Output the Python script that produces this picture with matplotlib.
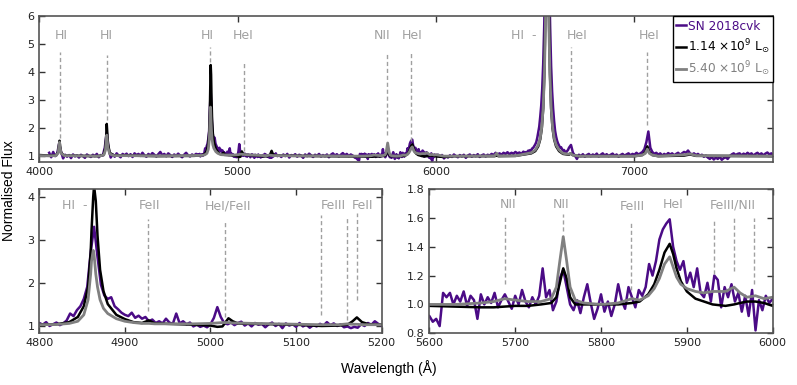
import numpy as np
import matplotlib.pyplot as plt

plt.rcParams['font.family'] = 'DejaVu Sans'
plt.rcParams['mathtext.fontset'] = 'dejavusans'

seg1_flux = [1.12, 0.96, 1.15, 1.0, 1.08, 1.45, 1.15, 0.92, 1.05, 0.98,
             1.04, 0.93, 1.06, 0.99, 1.03, 0.95, 1.05, 1.0, 0.94, 1.06,
             1.01, 0.97, 1.05, 1.0, 1.08, 0.96, 1.04, 1.02, 1.3, 1.85,
             1.25, 0.95, 1.06, 0.98, 1.1, 1.02, 0.96, 1.08, 1.03, 1.09,
             1.0, 1.07, 0.97, 1.1, 1.04, 1.08, 1.01, 1.12, 1.03, 0.98,
             1.08, 1.02, 1.11, 1.05, 0.99, 1.07, 1.15, 1.03, 1.08, 1.0,
             1.1, 1.04, 0.97, 1.06, 1.01, 1.09, 1.02, 0.96, 1.05, 1.12,
             1.03, 0.99, 1.06, 1.02, 1.08]
hb_flux = [1.06, 1.02, 1.08, 0.99, 1.03, 1.07, 1.01, 1.05, 1.12, 1.28,
           1.22, 1.36, 1.45, 1.62, 1.9, 2.7, 3.3, 2.6, 1.95, 1.7,
           1.62, 1.66, 1.45, 1.38, 1.3, 1.25, 1.22, 1.3, 1.18, 1.23,
           1.16, 1.2, 1.1, 1.14, 1.06, 1.1, 1.05, 1.16, 1.07, 1.04,
           1.28, 1.05, 1.1, 1.03, 1.07, 0.98, 1.02, 0.97, 1.0, 0.96,
           1.03, 1.18, 1.43, 1.2, 1.06, 1.03, 1.07, 1.01, 1.06, 1.09,
           1.0, 1.05, 0.98, 1.06, 1.02, 1.04, 0.96, 1.03, 1.07, 0.99,
           1.04, 0.94, 1.05, 1.0, 1.03, 0.97, 1.06, 0.98, 1.02, 0.95,
           1.01, 0.98, 1.04, 1.0, 1.08, 1.01, 1.05, 0.99, 1.03, 0.96,
           0.98, 0.94, 0.97, 0.95, 1.03, 0.99, 1.06, 1.02, 1.1, 1.04,
           1.0]
seg2_flux = [1.03, 0.97, 1.06, 1.0, 1.08, 0.95, 1.04, 1.01, 1.07, 0.98,
             1.05, 1.02, 0.94, 1.06, 1.0, 1.09, 1.03, 0.97, 1.05, 1.01,
             1.08, 0.99, 1.04, 1.0, 1.06, 0.96, 1.05, 1.1, 1.02, 1.07,
             0.99, 1.05, 1.11, 1.03, 1.08, 1.0, 1.06, 1.02, 0.95]
hei_flux = [0.92, 0.88, 0.9, 0.85, 1.08, 1.05, 1.08, 1.0, 1.06, 1.02,
            1.09, 0.99, 1.06, 1.03, 0.9, 1.07, 1.0, 1.05, 1.01, 1.08,
            0.98, 1.03, 1.07, 1.02, 0.97, 1.06, 1.0, 1.1, 1.02, 0.98,
            1.05, 1.0, 1.06, 1.25, 1.05, 1.1, 0.96, 1.02, 1.18, 1.24,
            1.12, 1.0, 0.96, 1.03, 0.94, 1.05, 1.14, 1.01, 0.9, 0.97,
            1.07, 0.95, 1.02, 0.92, 1.0, 1.14, 1.03, 0.97, 1.12, 1.05,
            0.98, 1.1, 1.06, 1.12, 1.28, 1.2, 1.3, 1.45, 1.52, 1.56,
            1.59, 1.4, 1.3, 1.24, 1.3, 1.15, 1.22, 1.12, 1.25, 1.08,
            1.05, 1.15, 1.02, 1.2, 1.17, 0.98, 1.12, 1.05, 1.14, 1.02,
            1.08, 0.95, 1.06, 0.92, 1.1, 0.82, 1.03, 0.96, 1.06, 1.01,
            1.04]
seg3_flux = [1.05, 0.98, 1.04, 0.92, 1.0, 0.95, 1.03, 0.97, 1.06, 1.0,
             0.96, 1.04, 0.99, 1.05, 0.94, 1.02, 1.06, 0.98, 1.04, 1.0,
             1.07, 0.97, 1.03, 1.06, 0.99, 1.05, 1.02, 1.08, 1.04, 1.12,
             1.06, 1.1, 1.05, 1.12, 1.08, 1.14, 1.07, 1.12, 1.09, 1.15,
             1.1, 1.13, 1.08, 1.16, 1.12]
ha_flux = [1.15, 1.12, 1.2, 1.15, 1.22, 1.2, 1.28, 1.3, 1.36, 1.42,
           1.5, 1.65, 1.85, 2.05, 2.4, 2.8, 3.4, 4.3, 5.6, 7.5,
           9.5, 10.5, 9.5, 7.5, 5.6, 4.2, 3.3, 2.7, 2.25, 1.9,
           1.7, 1.55, 1.45, 1.38, 1.3, 1.32, 1.25, 1.2, 1.22, 1.15,
           1.13, 1.18, 1.22, 1.3]
seg4_flux = [1.4, 1.12, 1.02, 0.9, 1.05, 1.0, 1.07, 0.98, 1.04, 1.08,
             1.0, 1.06, 1.02, 1.09, 0.99, 1.05, 1.1, 1.02, 1.07, 1.0,
             1.05, 1.09, 1.01, 1.06, 0.98, 1.04, 1.08, 1.02, 1.06, 1.1,
             1.03, 1.08, 1.05, 1.12, 1.06, 1.1, 1.15, 1.25, 1.5, 1.88,
             1.3, 1.15, 1.08, 1.12, 1.05, 1.1, 1.02, 1.08, 1.04, 1.11,
             1.06, 1.1, 1.03, 1.08, 1.12, 1.05, 1.1, 1.15, 1.12, 1.2,
             1.1, 1.06, 1.1, 1.04, 1.08, 1.02, 1.05, 0.98, 1.02, 0.95,
             0.9, 0.97, 0.88, 0.95, 0.9, 0.98, 0.87, 0.93, 0.96, 0.9,
             1.0, 1.06, 1.1, 1.04, 1.08, 1.1, 1.03, 1.09, 1.05, 1.12,
             1.06, 1.1, 1.02, 1.08, 1.12, 1.05, 1.1, 1.03, 1.09, 1.13,
             1.06, 1.1, 1.04]

obs_wave = np.concatenate([
    4050 + 10 * np.arange(len(seg1_flux)),
    4800 + 4 * np.arange(len(hb_flux)),
    5210 + 10 * np.arange(len(seg2_flux)),
    5600 + 4 * np.arange(len(hei_flux)),
    6010 + 10 * np.arange(len(seg3_flux)),
    6455 + 5 * np.arange(len(ha_flux)),
    6680 + 10 * np.arange(len(seg4_flux)),
])
obs_flux = np.concatenate([seg1_flux, hb_flux, seg2_flux, hei_flux,
                           seg3_flux, ha_flux, seg4_flux])

# --- model spectra ---
model_wave = [4000, 4050, 4085, 4095, 4100, 4102, 4105, 4110, 4125, 4300,
              4325, 4333, 4338, 4340, 4342, 4346, 4355, 4375, 4600, 4780,
              4800, 4820, 4835, 4845, 4852, 4857, 4860, 4861, 4863, 4864,
              4866, 4868, 4871, 4875, 4880, 4890, 4900, 4910, 4920, 4928,
              4935, 4950, 4980, 5000, 5008, 5014, 5021, 5026, 5032, 5050,
              5100, 5130, 5150, 5160, 5166, 5171, 5177, 5185, 5200, 5300,
              5450, 5550, 5600, 5630, 5660, 5675, 5688, 5700, 5715, 5730,
              5742, 5748, 5752, 5756, 5760, 5764, 5770, 5780, 5800, 5820,
              5836, 5845, 5855, 5862, 5868, 5874, 5880, 5884, 5888, 5893,
              5900, 5910, 5920, 5930, 5945, 5955, 5962, 5970, 5980, 5990,
              6000, 6040, 6100, 6295, 6305, 6315, 6400, 6480, 6500, 6515,
              6525, 6533, 6540, 6546, 6551, 6556, 6560, 6564, 6569, 6574,
              6580, 6587, 6595, 6605, 6620, 6640, 6670, 6678, 6688, 6720,
              7000, 7040, 7055, 7065, 7075, 7090, 7120, 7250, 7280, 7310,
              7700]
model_low = [1.04, 1.02, 1.03, 1.15, 1.45, 1.55, 1.35, 1.12, 1.02, 1.0,
             1.05, 1.3, 1.8, 2.15, 1.9, 1.45, 1.12, 1.03, 1.0, 1.01,
             1.02, 1.03, 1.08, 1.2, 1.45, 1.9, 2.7, 3.2, 4.0, 4.25,
             3.9, 3.1, 2.3, 1.8, 1.5, 1.25, 1.15, 1.08, 1.06, 1.12,
             1.05, 1.04, 1.02, 1.0, 0.97, 0.98, 1.17, 1.1, 1.05, 1.04,
             1.02, 0.99, 1.0, 1.02, 1.1, 1.19, 1.08, 1.03, 1.02, 1.01,
             1.0, 0.99, 0.99, 0.985, 0.98, 0.98, 0.985, 0.99, 0.99, 1.0,
             1.01, 1.05, 1.15, 1.25, 1.18, 1.05, 1.0, 1.0, 1.0, 1.0,
             1.01, 1.02, 1.07, 1.14, 1.24, 1.36, 1.42, 1.35, 1.25, 1.16,
             1.09, 1.04, 1.02, 1.0, 0.99, 1.0, 1.01, 1.02, 1.02, 1.01,
             0.99, 0.97, 1.0, 1.0, 1.02, 1.0, 1.01, 1.1, 1.18, 1.35,
             1.6, 2.0, 2.7, 4.0, 6.0, 10.0, 12.0, 10.0, 6.0, 4.0,
             2.7, 2.0, 1.6, 1.35, 1.18, 1.08, 1.05, 1.1, 1.04, 1.0,
             1.0, 1.04, 1.15, 1.35, 1.15, 1.04, 1.0, 1.02, 1.06, 1.01,
             1.0]
model_high = [1.02, 1.01, 1.02, 1.12, 1.4, 1.5, 1.3, 1.1, 1.02, 1.0,
              1.04, 1.2, 1.55, 1.75, 1.6, 1.3, 1.08, 1.02, 1.01, 1.02,
              1.02, 1.025, 1.05, 1.1, 1.25, 1.6, 2.2, 2.5, 2.75, 2.65,
              2.2, 1.9, 1.6, 1.4, 1.28, 1.16, 1.1, 1.07, 1.05, 1.05,
              1.04, 1.04, 1.04, 1.05, 1.06, 1.07, 1.07, 1.06, 1.06, 1.05,
              1.03, 1.02, 1.02, 1.04, 1.03, 1.03, 1.02, 1.02, 1.02, 1.01,
              1.01, 1.0, 1.0, 1.0, 1.01, 1.02, 1.04, 1.03, 1.02, 1.02,
              1.04, 1.12, 1.3, 1.47, 1.3, 1.12, 1.03, 1.01, 1.0, 1.01,
              1.04, 1.03, 1.06, 1.11, 1.18, 1.28, 1.33, 1.26, 1.19, 1.14,
              1.11, 1.09, 1.08, 1.09, 1.09, 1.12, 1.08, 1.05, 1.06, 1.04,
              1.05, 1.0, 1.0, 1.01, 1.1, 1.01, 1.01, 1.12, 1.22, 1.4,
              1.65, 2.05, 2.75, 3.9, 5.6, 8.8, 10.0, 8.8, 5.6, 3.9,
              2.75, 2.05, 1.65, 1.4, 1.22, 1.1, 1.07, 1.1, 1.04, 1.0,
              1.0, 1.04, 1.1, 1.25, 1.1, 1.04, 1.0, 1.05, 1.08, 1.02,
              1.0]

# --- line identifications: (wavelength, dash bottom, dash top) and labels ---
top_marks = [(4102, 1.65, 4.72), (4340, 2.3, 4.6), (4861, 4.35, 4.9),
             (5030, 1.2, 4.37), (5755, 1.75, 4.72), (5876, 1.55, 4.72),
             (6678, 1.65, 4.9), (7065, 2.1, 4.72)]
top_labels = [('HI', 4112, 'center'), ('HI', 4338, 'center'),
              ('HI', 4848, 'center'), ('HeI', 5029, 'center'),
              ('NII', 5726, 'center'), ('HeI', 5880, 'center'),
              ('HI  -', 6505, 'right'), ('HeI', 6709, 'center'),
              ('HeI', 7076, 'center')]
left_marks = [(4927, 1.33, 3.48), (5017, 1.21, 3.42), (5129, 1.25, 3.58),
              (5160, 1.13, 3.54), (5171, 1.6, 3.62)]
left_labels = [('HI  -', 4856, 'right'), ('FeII', 4929, 'center'),
               ('HeI/FeII', 5021, 'center'), ('FeIII', 5143, 'center'),
               ('FeII', 5178, 'center')]
right_marks = [(5688, 1.14, 1.61), (5756, 1.51, 1.63), (5835, 1.1, 1.57),
               (5932, 1.21, 1.59), (5955, 1.23, 1.6), (5978, 1.14, 1.6)]
right_labels = [('NII', 5692, 1.69), ('NII', 5753, 1.69),
                ('FeIII', 5836, 1.68), ('HeI', 5884, 1.69),
                ('FeIII/NII', 5953, 1.69)]

purple = '#4b0b86'
grey = '#808080'
label_grey = '#a0a0a0'

fig = plt.figure(figsize=(7.97, 3.85), dpi=100)
ax_top = fig.add_axes([0.0493, 0.5784, 0.9210, 0.3800])
ax_l = fig.add_axes([0.0493, 0.1343, 0.4296, 0.3748])
ax_r = fig.add_axes([0.5387, 0.1343, 0.4308, 0.3748])

for ax in (ax_top, ax_l, ax_r):
    ax.plot(obs_wave, obs_flux, color=purple, lw=1.8, label='SN 2018cvk')
    ax.plot(model_wave, model_low, color='k', lw=1.8,
            label=r'1.14 $\times$10$^9$ L$_{\odot}$')
    ax.plot(model_wave, model_high, color=grey, lw=2.0,
            label=r'5.40 $\times$10$^9$ L$_{\odot}$')
    ax.tick_params(direction='in', top=True, right=True, labelsize=8,
                   length=4, width=1, color='#333333', labelcolor='#222222')
    for sp in ax.spines.values():
        sp.set_color('#555555')
        sp.set_linewidth(1.2)

ax_top.set_xlim(4000, 7700)
ax_top.set_ylim(0.78, 6)
ax_top.set_xticks([4000, 5000, 6000, 7000])
ax_top.set_yticks([1, 2, 3, 4, 5, 6])

ax_l.set_xlim(4800, 5200)
ax_l.set_ylim(0.82, 4.18)
ax_l.set_xticks([4800, 4900, 5000, 5100, 5200])
ax_l.set_yticks([1, 2, 3, 4])

ax_r.set_xlim(5600, 6000)
ax_r.set_ylim(0.8, 1.8)
ax_r.set_xticks([5600, 5700, 5800, 5900, 6000])
ax_r.set_yticks([0.8, 1.0, 1.2, 1.4, 1.6, 1.8])
ax_r.set_yticklabels(['%.1f' % v for v in [0.8, 1.0, 1.2, 1.4, 1.6, 1.8]])

dash = (0, (3, 2))
for w, lo, hi in top_marks:
    ax_top.vlines(w, lo, hi, colors=label_grey, linestyles=dash, lw=1)
for txt, w, ha in top_labels:
    ax_top.text(w, 5.29, txt, color=label_grey, fontsize=9, ha=ha, va='center')
for w, lo, hi in left_marks:
    ax_l.vlines(w, lo, hi, colors=label_grey, linestyles=dash, lw=1)
for txt, w, ha in left_labels:
    ax_l.text(w, 3.79, txt, color=label_grey, fontsize=9, ha=ha, va='center')
for w, lo, hi in right_marks:
    ax_r.vlines(w, lo, hi, colors=label_grey, linestyles=dash, lw=1)
for txt, w, y in right_labels:
    ax_r.text(w, y, txt, color=label_grey, fontsize=9, ha='center', va='center')

leg = ax_top.legend(loc='upper right', fontsize=8.7, handlelength=0.8,
                    handletextpad=0.2, borderaxespad=0, fancybox=False,
                    edgecolor='k', framealpha=1, labelspacing=0.35,
                    borderpad=0.3)
leg.get_frame().set_linewidth(1.0)
for text, line in zip(leg.get_texts(), leg.get_lines()):
    text.set_color(line.get_color())

fig.text(0.488, 0.044, 'Wavelength (Å)', family='Liberation Sans',
         fontsize=10, ha='center', va='center')
fig.text(0.0115, 0.506, 'Normalised Flux', family='Liberation Sans',
         fontsize=10, rotation=90, ha='center', va='center')

fig.savefig('out.png', dpi=100)
